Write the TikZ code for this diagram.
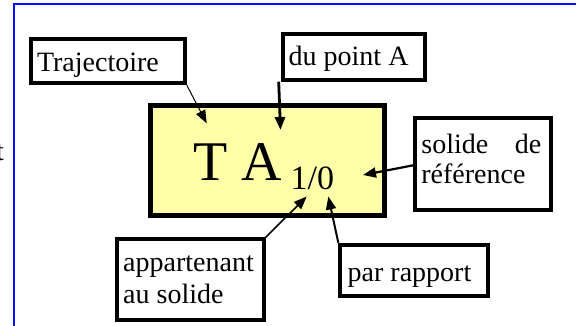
\documentclass[tikz,border=0pt]{standalone}
\usepackage{fontspec}
\setmainfont{Liberation Serif}
\usetikzlibrary{arrows.meta}
\definecolor{frameblue}{RGB}{10,10,255}
\definecolor{paleyellow}{RGB}{255,255,170}
\tikzset{
  box/.style={draw, line width=4pt, inner sep=0pt, fill=white},
  bigbox/.style={draw, line width=5pt, inner sep=0pt, fill=paleyellow},
  lbl/.style={anchor=base west, inner sep=0pt, font=\fontsize{28}{31}\selectfont},
  arr/.style={-{Triangle[length=13pt,width=10pt]}},
}
\begin{document}
\begin{tikzpicture}[x=1pt,y=-1pt]
\useasboundingbox (0,0) rectangle (576,325);
\fill[white] (0,0) rectangle (576,325);
% blue frame (continues beyond the picture)
\draw[frameblue, line width=2pt] (14.3,340) -- (14.3,4) -- (600,4);
% cut-off text at the left edge
\node[lbl, anchor=base east] (cut) at (4,160) {t};
% central box
\node[bigbox, minimum width=234.3pt, minimum height=109.7pt] (main) at (267.35,160.65) {};
\node[anchor=base west, inner sep=0pt] (ta) at (193.3,180)
  {\fontsize{56}{60}\selectfont T A\raisebox{-9pt}{\fontsize{34}{36}\selectfont\ 1/0}};
% label boxes
\node[box, minimum width=154pt, minimum height=44.3pt] (traj) at (107.7,60.85) {};
\node[lbl] (trajt) at (36.8,71.7) {Trajectoire};
\node[box, minimum width=142pt, minimum height=46pt] (pt) at (353.7,56.7) {};
\node[lbl] (ptt) at (288.5,65) {du point A};
\node[box, minimum width=136pt, minimum height=91.7pt] (sol) at (483,163.85) {};
\node[lbl] (solt1) at (421.2,153.3) {\hbox to 120pt{solide\hfill de}};
\node[lbl] (solt2) at (421.2,183.3) {référence};
\node[box, minimum width=146.7pt, minimum height=80.4pt] (app) at (190.35,279.5) {};
\node[lbl] (appt1) at (123,271.7) {appartenant};
\node[lbl] (appt2) at (123,303.3) {au solide};
\node[box, minimum width=147.7pt, minimum height=51.6pt] (par) at (414.15,270.5) {};
\node[lbl] (part) at (347.5,281.7) {par rapport};
% arrow targets inside the central box
\coordinate (tT) at (206.7,123.3);
\coordinate (tA) at (280.5,130);
\coordinate (tS) at (363,175);
\coordinate (t1) at (306.7,196.5);
\coordinate (t0) at (328.3,196.5);
% connectors
\draw[arr, line width=1pt] (traj.south east) -- (tT);
\draw[arr, line width=2.8pt] ([xshift=-2pt]pt.south west) -- (tA);
\draw[arr, line width=2.2pt] ([yshift=-1.5pt]sol.west) -- (tS);
\draw[arr, line width=1.6pt] (app.north east) -- (t1);
\draw[arr, line width=2pt] (par.north west) -- (t0);
\end{tikzpicture}
\end{document}
